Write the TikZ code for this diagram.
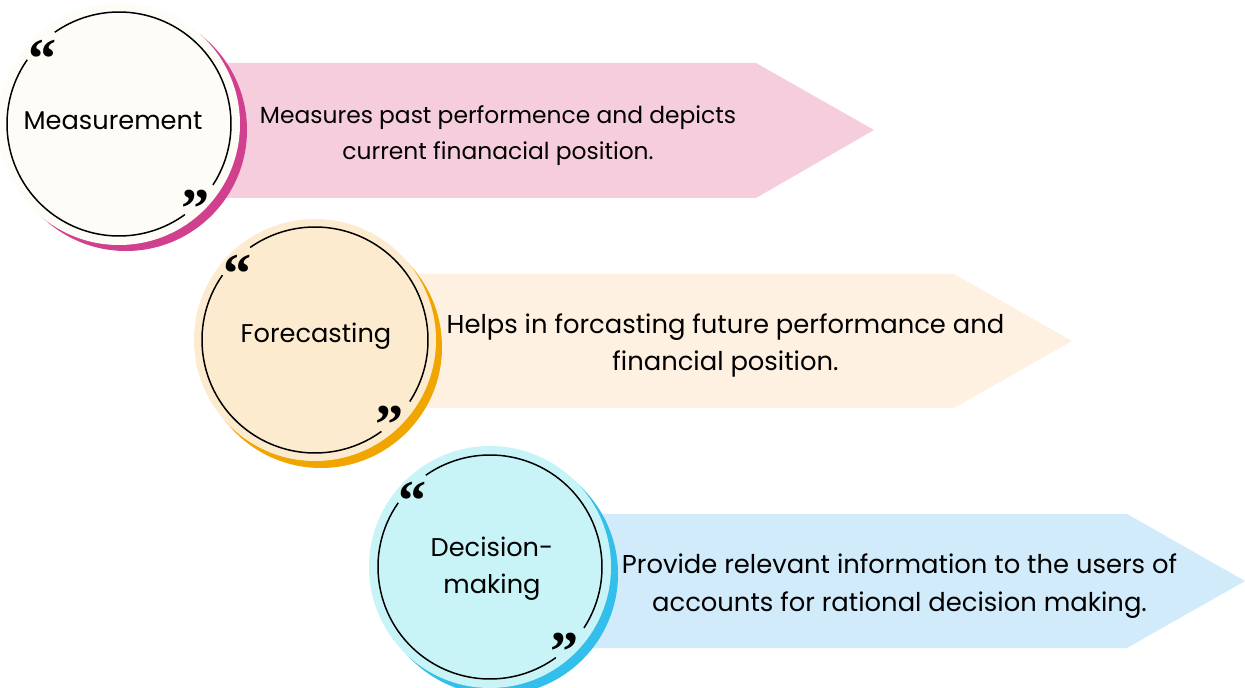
\documentclass[tikz,border=0pt]{standalone}
\usepackage{fontspec}
\setmainfont{Poppins}
\newfontfamily\quotefont{Liberation Serif}
\definecolor{pinkbg}{HTML}{F6CDDC}
\definecolor{magenta}{HTML}{D1408E}
\definecolor{cream}{HTML}{FEFCF6}
\definecolor{orangebg}{HTML}{FEF1E2}
\definecolor{orangeacc}{HTML}{F0A500}
\definecolor{peach}{HTML}{FDEBD0}
\definecolor{bluebg}{HTML}{D2EBFA}
\definecolor{blueacc}{HTML}{33BEEB}
\definecolor{cyanfill}{HTML}{C8F4F8}
\begin{document}
\begin{tikzpicture}[x=0.02cm, y=0.02cm,
    lbl/.style={font=\fontsize{14.6}{21}\selectfont, align=center, inner sep=0pt},
    txt/.style={font=\fontsize{13.3}{20.5}\selectfont, align=center, inner sep=0pt},
    bigtxt/.style={font=\fontsize{14.7}{21.6}\selectfont, align=center, inner sep=0pt},
    quot/.style={font=\quotefont\bfseries\fontsize{32}{32}\selectfont, inner sep=0pt},
    ring/.style={line width=0.85pt}]
    \useasboundingbox (0,0) rectangle (1245,687);
    \coordinate (C1) at (119,563);
    \coordinate (C2) at (315,347);
    \coordinate (C3) at (490,120);
    \fill[pinkbg] (200,624) -- (756,624) -- (874,557) -- (756,489) -- (200,489) -- cycle;
    \fill[orangebg] (400,413) -- (954,413) -- (1072,346) -- (954,279) -- (400,279) -- cycle;
    \fill[bluebg] (580,173) -- (1127,173) -- (1245,106) -- (1127,39) -- (580,39) -- cycle;
    \fill[magenta] ([shift={(7,-6)}]C1) circle[radius=121];
    \fill[cream] (C1) circle[radius=121];
    \draw[ring] (C1) ++(-33:112) arc[start angle=-33, end angle=125, radius=112];
    \draw[ring] (C1) ++(145:112) arc[start angle=145, end angle=306, radius=112];
    \fill[orangeacc] ([shift={(6,-7)}]C2) circle[radius=121];
    \fill[peach] (C2) circle[radius=121];
    \draw[ring] (C2) ++(-33:113) arc[start angle=-33, end angle=125, radius=113];
    \draw[ring] (C2) ++(145:113) arc[start angle=145, end angle=306, radius=113];
    \fill[blueacc] ([shift={(7,-7)}]C3) circle[radius=121];
    \fill[cyanfill] (C3) circle[radius=121];
    \draw[ring] (C3) ++(-33:112) arc[start angle=-33, end angle=125, radius=112];
    \draw[ring] (C3) ++(145:112) arc[start angle=145, end angle=306, radius=112];
    \node[quot] (q1a) at ([shift={(-76,65)}]C1) {“};
    \node[quot] (q1b) at ([shift={(77,-85)}]C1) {”};
    \node[quot] (q2a) at ([shift={(-77,66)}]C2) {“};
    \node[quot] (q2b) at ([shift={(75,-85)}]C2) {”};
    \node[quot] (q3a) at ([shift={(-77,66)}]C3) {“};
    \node[quot] (q3b) at ([shift={(75,-85)}]C3) {”};
    \node[lbl] (m) at (113,566) {Measurement};
    \node[lbl] (f) at (316,351) {Forecasting};
    \node[lbl] (d) at (492,118) {Decision-\\making};
    \node[txt] (mt) at (498,551) {Measures past performence and depicts\\current finanacial position.};
    \node[bigtxt] (ft) at (725.5,341.5) {Helps in forcasting future performance and\\financial position.};
    \node[bigtxt] (dt) at (899.5,100.5) {Provide relevant information to the users of\\accounts for rational decision making.};
\end{tikzpicture}
\end{document}
